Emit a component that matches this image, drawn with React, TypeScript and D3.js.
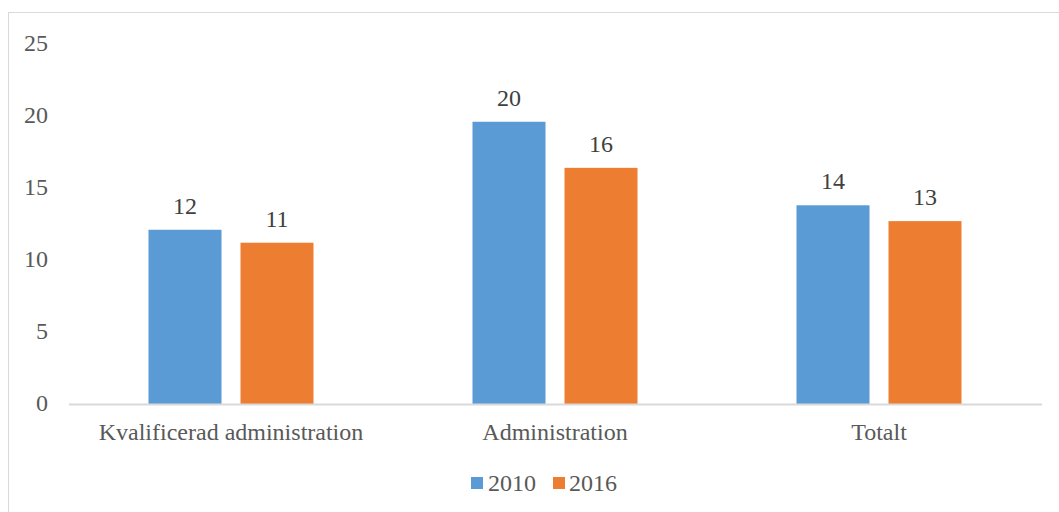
import React from "react";
import * as d3 from "d3";

const categories = ["Kvalificerad administration", "Administration", "Totalt"];
const seriesNames = ["2010", "2016"];
const values2010 = [12.1, 19.6, 13.8];
const values2016 = [11.2, 16.4, 12.7];
const labels2010 = ["12", "20", "14"];
const labels2016 = ["11", "16", "13"];
const yTicks = [0, 5, 10, 15, 20, 25];
const colors = ["#5B9BD5", "#ED7D31"];

const W = 1059;
const H = 512;
const FONT = "Liberation Serif, Times New Roman, Times, DejaVu Serif, serif";

export default function App() {
  const left = 69;
  const right = 1041;
  const y = d3.scaleLinear().domain([0, 25]).range([404, 44]);
  const x0 = d3.scaleBand<string>().domain(categories).range([left, right]).paddingInner(0).paddingOuter(0);
  const groupW = 165;
  const x1 = d3.scaleBand<string>().domain(seriesNames).range([0, groupW]).paddingInner(19 / 92).paddingOuter(0);
  const series = [
    { name: seriesNames[0], vals: values2010, labels: labels2010, color: colors[0] },
    { name: seriesNames[1], vals: values2016, labels: labels2016, color: colors[1] },
  ];
  const groupOffset = (x0.bandwidth() - groupW) / 2;
  const ts = { fontFamily: FONT, fontSize: "24px" } as React.CSSProperties;

  return (
    <svg width={W} height={H} style={{ position: "absolute", left: 0, top: 0, background: "#fff", fontFamily: FONT }}>
      <rect x={8.5} y={12.5} width={1200} height={700} fill="#fff" stroke="#D9D9D9" strokeWidth={1} />
      {yTicks.map((t) => (
        <text key={t} x={48} y={y(t)} dy="0.3em" textAnchor="end" style={ts} fill="#595959">
          {t}
        </text>
      ))}
      {series.map((s) =>
        categories.map((c, i) => {
          const bx = (x0(c) as number) + groupOffset + (x1(s.name) as number);
          const bw = x1.bandwidth();
          const top = y(s.vals[i]);
          return (
            <g key={s.name + c}>
              <rect x={bx} y={top} width={bw} height={y(0) - top} fill={s.color} />
              <text x={bx + bw / 2} y={top - 16} textAnchor="middle" style={ts} fill="#404040">
                {s.labels[i]}
              </text>
            </g>
          );
        })
      )}
      <line x1={left} x2={right + 1} y1={y(0) + 0.5} y2={y(0) + 0.5} stroke="#D9D9D9" strokeWidth={2} />
      {categories.map((c) => (
        <text key={c} x={(x0(c) as number) + x0.bandwidth() / 2} y={440} textAnchor="middle" style={ts} fill="#595959">
          {c}
        </text>
      ))}
      <g>
        <rect x={471} y={477} width={12} height={12} fill={colors[0]} />
        <text x={488} y={491} style={ts} fill="#595959">{seriesNames[0]}</text>
        <rect x={553} y={477} width={12} height={12} fill={colors[1]} />
        <text x={569} y={491} style={ts} fill="#595959">{seriesNames[1]}</text>
      </g>
    </svg>
  );
}
